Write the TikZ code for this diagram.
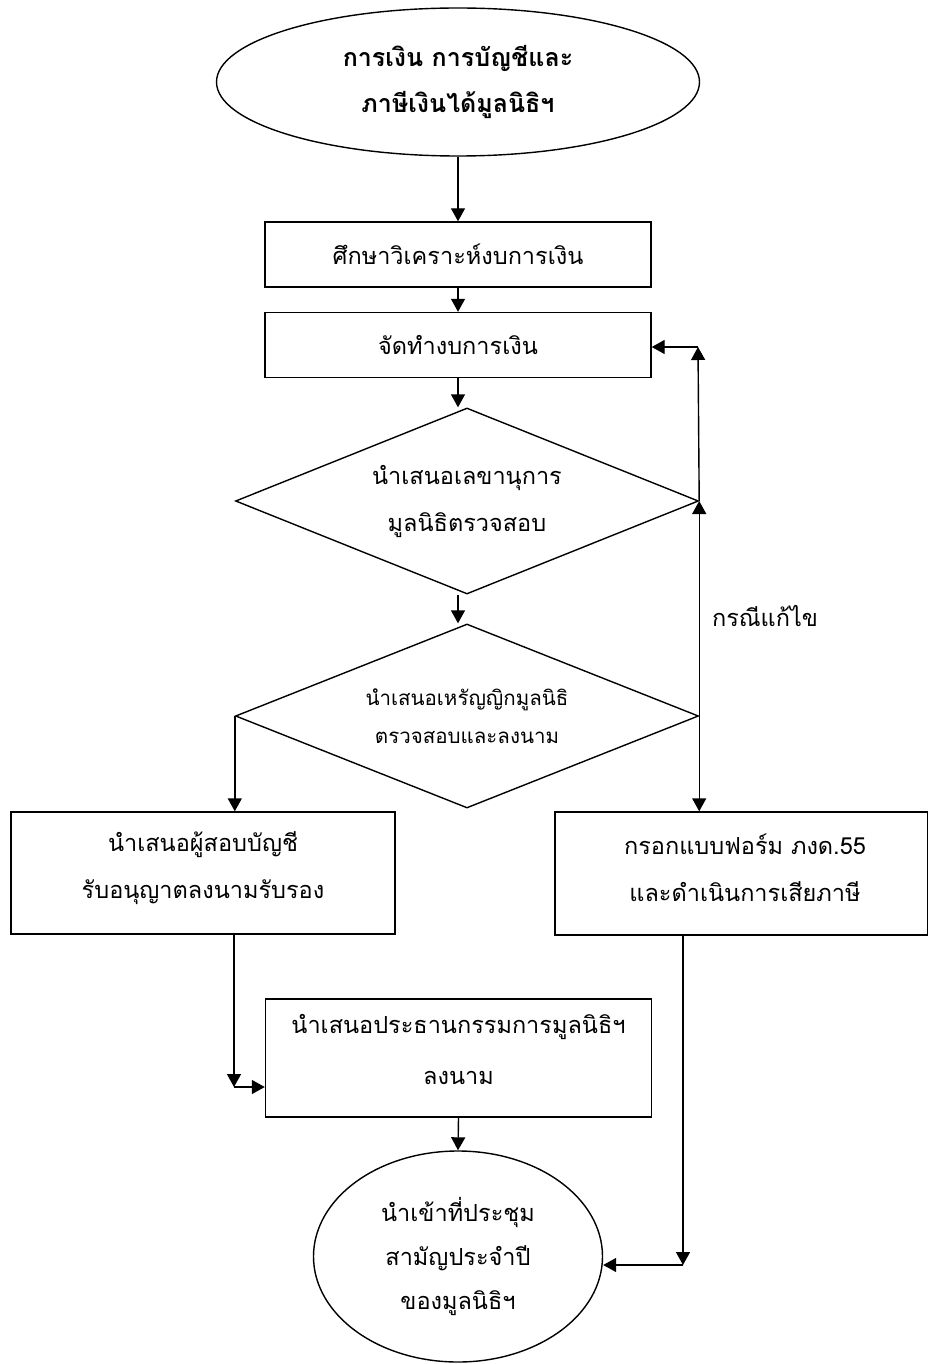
\documentclass[tikz,border=0pt]{standalone}
\usepackage{fontspec}
\setmainfont[Script=Thai]{Loma}
\usetikzlibrary{shapes.geometric,arrows.meta}
\tikzset{
  every node/.style={inner sep=0pt, align=center},
  arr/.style={line width=1.4pt, -{Triangle[length=13pt,width=14pt]}},
  boxnode/.style={draw, line width=1.4pt, rectangle},
  dia/.style={draw, diamond, aspect=2.49, line width=1.4pt},
  txt/.style={font=\fontsize{23.5}{47}\selectfont},
  smalltxt/.style={font=\fontsize{20.5}{38}\selectfont},
}
\begin{document}
\begin{tikzpicture}[x=1pt,y=-1pt]
\useasboundingbox (0,0) rectangle (928,1364);
\node[draw, ellipse, line width=1.4pt, minimum width=483pt, minimum height=148pt,
      font=\fontsize{25}{46}\selectfont\bfseries] (top) at (458,82) {การเงิน การบัญชีและ\\ภาษีเงินได้มูลนิธิฯ};
\node[boxnode, txt, minimum width=386pt, minimum height=65pt] (b1) at (458,254.5) {ศึกษาวิเคราะห์งบการเงิน};
\node[boxnode, txt, minimum width=386pt, minimum height=65pt] (b2) at (458,345) {จัดทำงบการเงิน};
\node[dia, minimum width=463pt, minimum height=186pt, txt] (d1) at (467,501) {นำเสนอเลขานุการ\\มูลนิธิตรวจสอบ};
\node[dia, minimum width=463pt, minimum height=184pt, smalltxt] (d2) at (467,716) {นำเสนอเหรัญญิกมูลนิธิ\\ตรวจสอบและลงนาม};
\node[boxnode, minimum width=384pt, minimum height=122pt] (lb) at (203,873) {};
\node[txt] (lbt) at (203,868) {นำเสนอผู้สอบบัญชี\\รับอนุญาตลงนามรับรอง};
\node[boxnode, minimum width=373pt, minimum height=123pt] (rb) at (741.5,873.5) {};
\node[txt] (rbt) at (745,868) {กรอกแบบฟอร์ม ภงด.55\\และดำเนินการเสียภาษี};
\node[boxnode, minimum width=386pt, minimum height=118pt] (cb) at (458.5,1058) {};
\node[font=\fontsize{23.5}{51}\selectfont] (cbt) at (458.5,1049) {นำเสนอประธานกรรมการมูลนิธิฯ\\ลงนาม};
\node[draw, ellipse, line width=1.4pt, minimum width=289pt, minimum height=211pt, font=\fontsize{23.5}{44}\selectfont] (bot) at (458,1256.5) {นำเข้าที่ประชุม\\สามัญประจำปี\\ของมูลนิธิฯ};
\node[txt] (lab) at (765,616) {กรณีแก้ไข};

\coordinate (c1) at (698,347);
\coordinate (c2) at (234,1087);
\coordinate (c3) at (683,1265);

\draw[arr] (top.south) -- (b1.north);
\draw[arr] (b1.south) -- (b2.north);
\draw[arr] (b2.south) -- (b2.south |- d1.north);
\draw[arr] (b2.south |- d1.south) -- (b2.south |- d2.north);
\draw[arr] (d2.east) -- (d1.east);
\draw[arr] (d1.east) -- (c1);
\draw[arr] (c1) -- (b2.east |- c1);
\draw[arr] (d2.east) -- (d2.east |- rb.north);
\draw[arr] (d2.west) -- (d2.west |- lb.north);
\draw[arr] (c2 |- lb.south) -- (c2);
\draw[arr] (c2) -- (cb.west |- c2);
\draw[arr] (cb.south) -- (bot.north);
\draw[arr] (c3 |- rb.south) -- (c3);
\draw[arr] (c3) -- (c3 -| bot.east);
\end{tikzpicture}
\end{document}
